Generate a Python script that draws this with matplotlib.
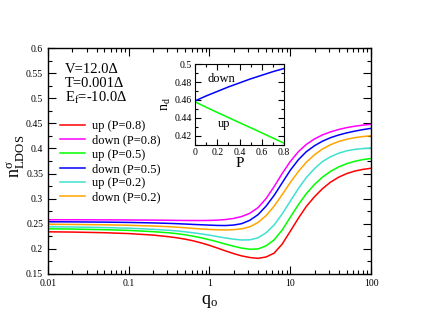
import matplotlib
matplotlib.use("Agg")
import matplotlib.pyplot as plt
from matplotlib.ticker import MultipleLocator, LogLocator, NullFormatter, FixedLocator, FixedFormatter

plt.rcParams['font.family'] = ['Liberation Serif', 'DejaVu Serif']
plt.rcParams['mathtext.fontset'] = 'custom'
plt.rcParams['mathtext.rm'] = 'Liberation Serif'
plt.rcParams['mathtext.it'] = 'Liberation Serif'

# ---- data ----
q = [0.01, 0.02, 0.05, 0.1, 0.2, 0.316, 0.398, 0.501, 0.631, 0.794, 1.0, 1.26, 1.58, 2.0,
     2.51, 3.16, 3.98, 5.01, 6.31, 7.94, 10.0, 12.6, 15.8, 20.0, 25.1, 31.6, 39.8, 50.1,
     63.1, 79.4, 100.0]

up_08 = [0.2340, 0.2335, 0.2322, 0.2305, 0.2275, 0.2242, 0.2220, 0.2193, 0.2160, 0.2118,
         0.2070, 0.2015, 0.1960, 0.1905, 0.1860, 0.1828, 0.1812, 0.1838, 0.1915, 0.2095,
         0.2350, 0.2610, 0.2845, 0.3040, 0.3200, 0.3330, 0.3428, 0.3500, 0.3550, 0.3583,
         0.3605]
down_08 = [0.2580, 0.2580, 0.2578, 0.2576, 0.2573, 0.2570, 0.2568, 0.2566, 0.2565, 0.2565,
           0.2567, 0.2573, 0.2585, 0.2607, 0.2645, 0.2710, 0.2820, 0.3000, 0.3240, 0.3500,
           0.3740, 0.3935, 0.4080, 0.4190, 0.4270, 0.4330, 0.4378, 0.4415, 0.4443, 0.4465,
           0.4480]
up_05 = [0.2400, 0.2395, 0.2382, 0.2368, 0.2343, 0.2320, 0.2303, 0.2280, 0.2252, 0.2220,
         0.2182, 0.2140, 0.2095, 0.2052, 0.2015, 0.1993, 0.1998, 0.2060, 0.2180, 0.2375,
         0.2630, 0.2880, 0.3100, 0.3285, 0.3430, 0.3545, 0.3632, 0.3697, 0.3745, 0.3778,
         0.3800]
down_05 = [0.2540, 0.2538, 0.2533, 0.2527, 0.2517, 0.2508, 0.2502, 0.2495, 0.2487, 0.2480,
           0.2473, 0.2467, 0.2465, 0.2475, 0.2503, 0.2570, 0.2680, 0.2850, 0.3065, 0.3315,
           0.3565, 0.3775, 0.3935, 0.4055, 0.4145, 0.4215, 0.4268, 0.4310, 0.4345, 0.4375,
           0.4400]
up_02 = [0.2440, 0.2436, 0.2425, 0.2412, 0.2390, 0.2370, 0.2357, 0.2340, 0.2320, 0.2298,
         0.2273, 0.2245, 0.2217, 0.2193, 0.2177, 0.2180, 0.2220, 0.2320, 0.2475, 0.2695,
         0.2950, 0.3200, 0.3420, 0.3600, 0.3740, 0.3835, 0.3905, 0.3953, 0.3982, 0.3998,
         0.4008]
down_02 = [0.2490, 0.2487, 0.2480, 0.2470, 0.2455, 0.2442, 0.2432, 0.2420, 0.2408, 0.2397,
           0.2387, 0.2380, 0.2377, 0.2383, 0.2400, 0.2440, 0.2525, 0.2660, 0.2850, 0.3080,
           0.3320, 0.3540, 0.3725, 0.3875, 0.3990, 0.4075, 0.4138, 0.4183, 0.4215, 0.4237,
           0.4252]

series = [
    ("up (P=0.8)", up_08, "#ff0000"),
    ("down (P=0.8)", down_08, "#ff00ff"),
    ("up (P=0.5)", up_05, "#00ff00"),
    ("down (P=0.5)", down_05, "#0000ff"),
    ("up (P=0.2)", up_02, "#40e0d0"),
    ("down (P=0.2)", down_02, "#ffa500"),
]

P = [0.0, 0.1, 0.2, 0.3, 0.4, 0.5, 0.6, 0.7, 0.8]
nd_down = [0.459, 0.4645, 0.4695, 0.4745, 0.479, 0.4835, 0.4875, 0.4915, 0.495]
nd_up = [0.458, 0.452, 0.4462, 0.4405, 0.4348, 0.4292, 0.4235, 0.4178, 0.412]

# ---- figure ----
fig = plt.figure(figsize=(4.30, 3.32), dpi=100)
ax = fig.add_axes([0.1116, 0.1747, 0.7512, 0.6807])

for label, vals, col in series:
    ax.plot(q, vals, color=col, lw=1.1, label=label)

ax.set_xscale('log')
ax.set_xlim(0.01, 100)
ax.set_ylim(0.15, 0.6)
ax.yaxis.set_major_locator(FixedLocator([0.15, 0.2, 0.25, 0.3, 0.35, 0.4, 0.45, 0.5, 0.55, 0.6]))
ax.yaxis.set_major_formatter(FixedFormatter(['0.15', '0.2', '0.25', '0.3', '0.35', '0.4', '0.45', '0.5', '0.55', '0.6']))
ax.yaxis.set_minor_locator(MultipleLocator(0.025))
ax.xaxis.set_major_locator(FixedLocator([0.01, 0.1, 1, 10, 100]))
ax.xaxis.set_major_formatter(FixedFormatter(['0.01', '0.1', '1', '10', '100']))
ax.xaxis.set_minor_locator(LogLocator(base=10, subs=range(2, 10)))
ax.xaxis.set_minor_formatter(NullFormatter())
ax.tick_params(which='both', direction='in', top=True, right=True, labelsize=7, width=0.8)
ax.tick_params(which='major', length=6)
ax.tick_params(which='minor', length=3)
for s in ax.spines.values():
    s.set_linewidth(1.0)

ax.set_xlabel(r'q$_\mathregular{o}$', fontsize=13, labelpad=4)
ax.set_ylabel(r'n$^\mathregular{\sigma}_\mathregular{LDOS}$', fontsize=13)
ax.yaxis.set_label_coords(-0.066, 0.52)

ax.text(0.053, 0.903, 'V=12.0Δ', transform=ax.transAxes, fontsize=10.5, va='center', ha='left')
ax.text(0.053, 0.841, 'T=0.001Δ', transform=ax.transAxes, fontsize=10.5, va='center', ha='left')
ax.text(0.053, 0.779, r'E$_\mathregular{f}$=-10.0Δ', transform=ax.transAxes, fontsize=10.5, va='center', ha='left')

leg = ax.legend(loc='upper left', bbox_to_anchor=(0.037, 0.68), frameon=False, fontsize=9,
                handlelength=2.0, handletextpad=0.55, labelspacing=0.18, borderpad=0,
                borderaxespad=0)

# ---- inset ----
ins = fig.add_axes([0.4535, 0.5633, 0.2070, 0.2439])
ins.plot(P, nd_down, color='#0000ff', lw=1.1)
ins.plot(P, nd_up, color='#00ff00', lw=1.1)
ins.set_xlim(0, 0.8)
ins.set_ylim(0.41, 0.5)
ins.xaxis.set_major_locator(FixedLocator([0, 0.2, 0.4, 0.6, 0.8]))
ins.xaxis.set_major_formatter(FixedFormatter(['0', '0.2', '0.4', '0.6', '0.8']))
ins.xaxis.set_minor_locator(MultipleLocator(0.1))
ins.yaxis.set_major_locator(FixedLocator([0.42, 0.44, 0.46, 0.48, 0.5]))
ins.yaxis.set_major_formatter(FixedFormatter(['0.42', '0.44', '0.46', '0.48', '0.5']))
ins.yaxis.set_minor_locator(MultipleLocator(0.01))
ins.tick_params(which='both', direction='in', top=True, right=True, labelsize=7, width=0.8, pad=2)
ins.tick_params(which='major', length=4)
ins.tick_params(which='minor', length=2)
ins.set_xlabel('P', fontsize=11, labelpad=0)
ins.set_ylabel(r'n$_\mathregular{d}$', fontsize=10, labelpad=1)
ins.text(0.24, 0.483, 'down', fontsize=9, ha='center', va='center')
ins.text(0.26, 0.433, 'up', fontsize=9, ha='center', va='center')

fig.savefig('out.png', dpi=100)
